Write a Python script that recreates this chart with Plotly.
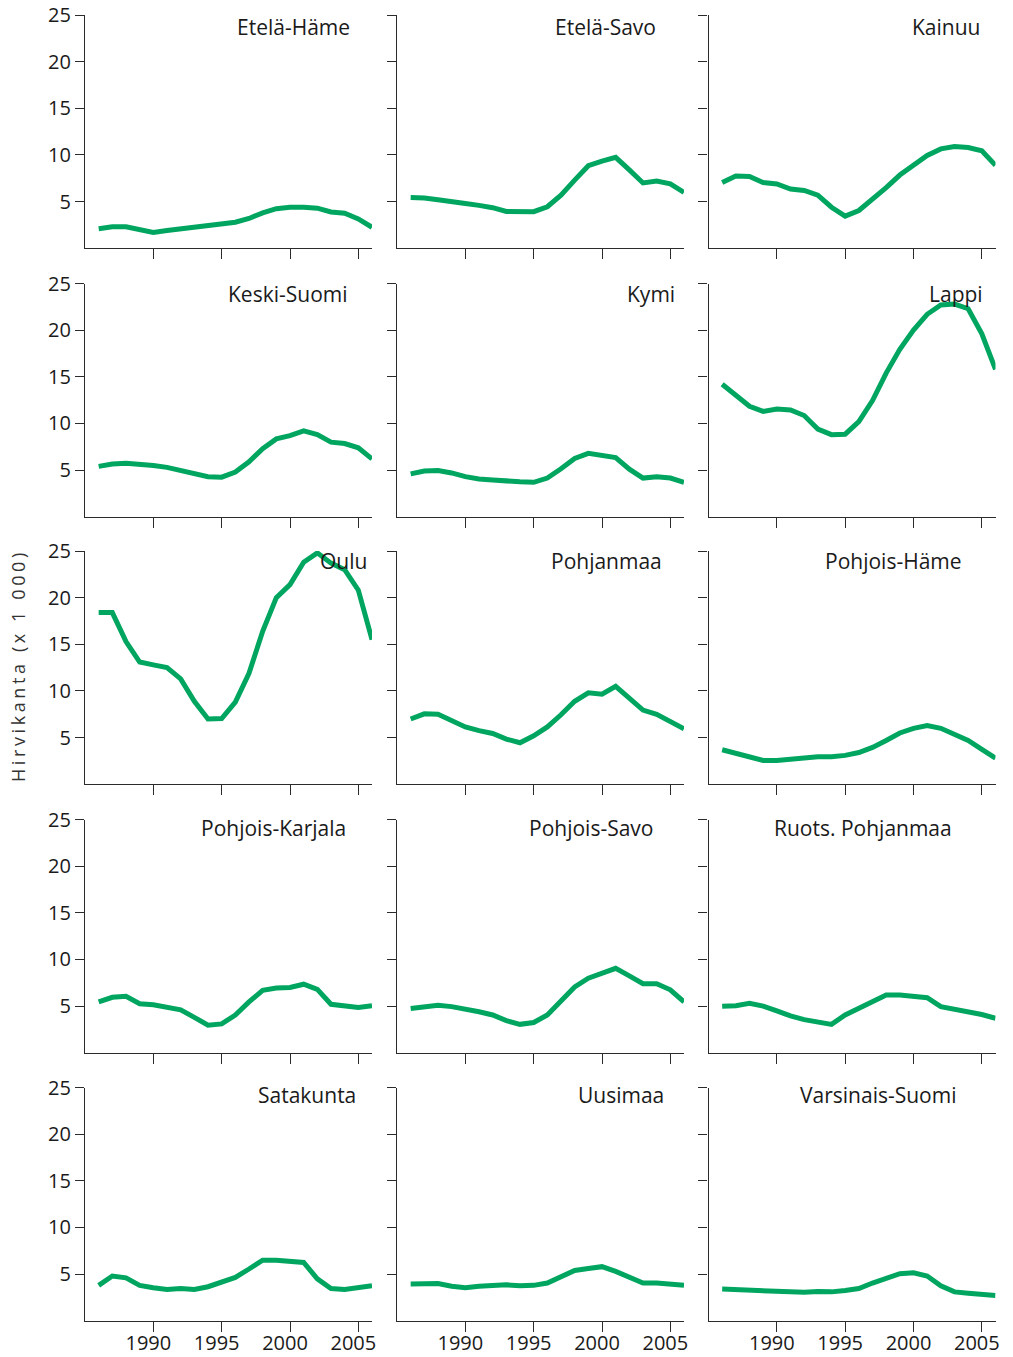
import plotly.graph_objects as go

# Moose population by game management district, 1986-2006 (thousands)
years = list(range(1986, 2007))

regions = [
    "Etelä-Häme", "Etelä-Savo", "Kainuu",
    "Keski-Suomi", "Kymi", "Lappi",
    "Oulu", "Pohjanmaa", "Pohjois-Häme",
    "Pohjois-Karjala", "Pohjois-Savo", "Ruots. Pohjanmaa",
    "Satakunta", "Uusimaa", "Varsinais-Suomi",
]

etela_hame = [2.1, 2.3, 2.3, 2.0, 1.7, 1.9, 2.1, 2.3, 2.5, 2.6, 2.8, 3.2, 3.8, 4.25, 4.4, 4.4, 4.3, 3.9, 3.75, 3.15, 2.25]
etela_savo = [5.45, 5.4, 5.2, 4.95, 4.8, 4.6, 4.35, 3.95, 3.93, 3.93, 4.45, 5.7, 7.3, 8.85, 9.35, 9.75, 8.4, 7.0, 7.2, 6.9, 6.0]
kainuu = [7.05, 7.75, 7.7, 7.05, 6.9, 6.35, 6.2, 5.7, 4.4, 3.45, 4.05, 5.2, 6.5, 7.85, 8.9, 9.95, 10.65, 10.9, 10.8, 10.45, 8.9]
keski_suomi = [5.4, 5.65, 5.75, 5.65, 5.5, 5.3, 5.0, 4.6, 4.3, 4.25, 4.8, 5.9, 7.3, 8.35, 8.7, 9.2, 8.8, 8.0, 7.85, 7.4, 6.2]
kymi = [4.6, 4.9, 4.95, 4.7, 4.3, 4.05, 3.95, 3.8, 3.75, 3.7, 4.15, 5.15, 6.25, 6.8, 6.6, 6.35, 5.1, 4.15, 4.3, 4.15, 3.7]
lappi = [14.2, 13.1, 11.85, 11.3, 11.55, 11.45, 10.85, 9.4, 8.8, 8.85, 10.2, 12.45, 15.4, 17.95, 20.0, 21.7, 22.7, 22.8, 22.3, 19.6, 15.8]
oulu = [18.4, 18.4, 15.3, 13.1, 12.8, 12.5, 11.3, 8.9, 7.0, 7.05, 8.8, 11.9, 16.4, 20.0, 21.4, 23.8, 24.8, 23.7, 23.0, 20.8, 15.5]
pohjanmaa = [7.0, 7.55, 7.5, 6.8, 6.15, 5.75, 5.45, 4.85, 4.45, 5.2, 6.15, 7.45, 8.9, 9.8, 9.65, 10.5, 9.2, 7.95, 7.5, 6.7, 5.95]
pohjois_hame = [3.7, 3.3, 2.85, 2.55, 2.55, 2.7, 2.85, 2.95, 2.95, 3.1, 3.4, 3.95, 4.7, 5.5, 6.0, 6.3, 6.0, 5.4, 4.7, 3.75, 2.8]
pohjois_karjala = [5.45, 5.95, 6.05, 5.25, 5.15, 4.85, 4.6, 3.8, 2.95, 3.1, 4.05, 5.45, 6.7, 6.95, 7.0, 7.35, 6.8, 5.2, 5.05, 4.85, 5.05]
pohjois_savo = [4.75, 4.95, 5.1, 4.95, 4.7, 4.4, 4.05, 3.45, 3.05, 3.25, 4.05, 5.55, 7.05, 8.0, 8.55, 9.05, 8.25, 7.4, 7.4, 6.75, 5.45]
ruots_pohjanmaa = [5.0, 5.05, 5.3, 5.0, 4.5, 3.95, 3.55, 3.3, 3.05, 4.05, 4.75, 5.6, 6.2, 6.2, 6.05, 5.9, 4.95, 4.65, 4.45, 4.1, 3.7]
satakunta = [3.8, 4.8, 4.6, 3.8, 3.55, 3.35, 3.45, 3.35, 3.65, 4.1, 4.65, 5.55, 6.5, 6.5, 6.4, 6.25, 4.5, 3.45, 3.35, 3.55, 3.75]
uusimaa = [3.95, 3.95, 4.0, 3.7, 3.55, 3.7, 3.8, 3.85, 3.75, 3.8, 4.05, 4.7, 5.4, 5.6, 5.8, 5.3, 4.7, 4.05, 4.05, 3.95, 3.8]
varsinais_suomi = [3.4, 3.35, 3.25, 3.2, 3.1, 3.05, 3.05, 3.15, 3.1, 3.25, 3.45, 4.05, 4.55, 5.05, 5.15, 4.8, 3.75, 3.1, 2.95, 2.8, 2.7]

series = [
    etela_hame, etela_savo, kainuu,
    keski_suomi, kymi, lappi,
    oulu, pohjanmaa, pohjois_hame,
    pohjois_karjala, pohjois_savo, ruots_pohjanmaa,
    satakunta, uusimaa, varsinais_suomi,
]

y_ticks = [5, 10, 15, 20, 25]
x_ticks = [1990, 1995, 2000, 2005]
y_title = "Hirvikanta (x 1 000)"

# ---- page geometry (pixels) ----
W, H = 1013, 1357
col_left = [85, 397, 708.5]
col_width = 287
row_top = [15, 283.5, 551, 819.5, 1087.5]
row_height = 233.3

# right edge (px) of each panel's name label, and vertical offset per row
label_right = [352, 658, 982, 350, 677, 985, 369, 664, 964, 348, 655, 954, 358, 666, 958]
label_dy = [12, 10, 10, 8, 7]

GREEN = "#00a660"
AXIS = "#2b2b2b"
FONT = "Open Sans, Noto Sans, sans-serif"

fig = go.Figure()
layout = dict(
    width=W, height=H,
    margin=dict(l=0, r=0, t=0, b=0, autoexpand=False),
    paper_bgcolor="white", plot_bgcolor="white",
    showlegend=False,
    font=dict(family=FONT, size=18, color="#1a1a1a"),
    annotations=[],
)

for i, (name, vals) in enumerate(zip(regions, series)):
    r, c = divmod(i, 3)
    n = i + 1
    xa = f"xaxis{n}" if n > 1 else "xaxis"
    ya = f"yaxis{n}" if n > 1 else "yaxis"
    fig.add_trace(go.Scatter(
        x=years, y=vals, mode="lines",
        line=dict(color=GREEN, width=5),
        xaxis=f"x{n}" if n > 1 else "x",
        yaxis=f"y{n}" if n > 1 else "y",
        hoverinfo="x+y",
    ))
    x0 = col_left[c] / W
    x1 = (col_left[c] + col_width) / W
    y1 = 1 - row_top[r] / H
    y0 = 1 - (row_top[r] + row_height) / H
    layout[xa] = dict(
        domain=[x0, x1], range=[1985, 2006], anchor=f"y{n}" if n > 1 else "y",
        automargin=False,
        showgrid=False, zeroline=False, showline=True,
        linecolor=AXIS, linewidth=1.3,
        ticks="outside", ticklen=10, tickwidth=1.3, tickcolor=AXIS,
        tickvals=x_ticks, showticklabels=(r == 4),
        tickfont=dict(size=20), ticklabelshift=-5, ticklabelstandoff=-6,
    )
    layout[ya] = dict(
        domain=[y0, y1], range=[0, 25], anchor=f"x{n}" if n > 1 else "x",
        automargin=False,
        showgrid=False, zeroline=False, showline=True,
        linecolor=AXIS, linewidth=1.3,
        ticks="outside", ticklen=9, tickwidth=1.3, tickcolor=AXIS,
        tickvals=y_ticks, showticklabels=(c == 0),
        tickfont=dict(size=20),
    )
    layout["annotations"].append(dict(
        text=name, showarrow=False,
        xref="paper", yref="paper",
        x=label_right[i] / W, xanchor="right",
        y=1 - (row_top[r] + label_dy[r]) / H, yanchor="middle",
        font=dict(size=21, color="#1a1a1a"),
    ))

layout["annotations"].append(dict(
    text=f'<span style="letter-spacing:3.6px">{y_title}</span>',
    showarrow=False, textangle=-90,
    xref="paper", yref="paper",
    x=18 / W, xanchor="center",
    y=1 - 666 / H, yanchor="middle",
    font=dict(size=18, color="#333333"),
))

fig.update_layout(**layout)
fig.write_html("out.html")
